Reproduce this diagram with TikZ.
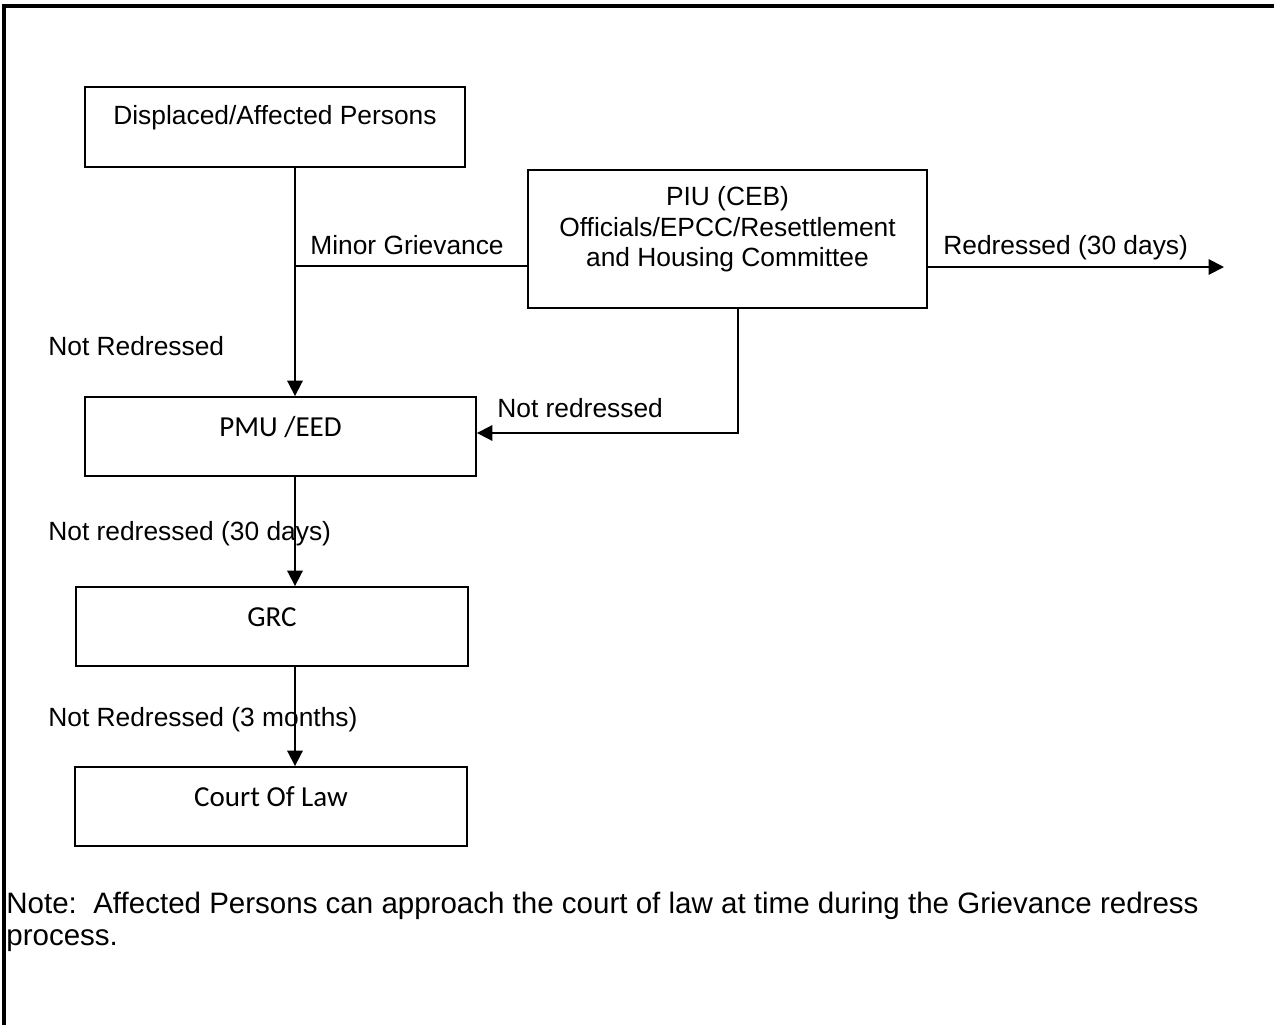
\documentclass[tikz,border=0pt]{standalone}
\usepackage{fontspec}
\setmainfont{Liberation Sans}
\newfontfamily\calibri{Carlito}
\usepackage{tikz}
\usetikzlibrary{arrows.meta, positioning, calc}

\tikzset{
    box/.style={draw, line width=1.1pt, inner sep=0pt},
    lbl/.style={anchor=base west, inner sep=0pt},
    arr/.style={line width=1.1pt, -{Triangle[length=3.1mm, width=3.1mm]}},
}

\begin{document}
\begin{tikzpicture}[x=0.02cm, y=-0.02cm, font=\fontsize{15}{17.6}\selectfont]
    \useasboundingbox (0,0) rectangle (1274,1025);
    \draw[line width=2pt] (4,1025) -- (4,6) -- (1274,6);

    \node[box, minimum width=7.6cm, minimum height=1.6cm, text height=0.39cm, text depth=0.49cm] (dap) at (275,127) {Displaced/Affected Persons};
    \node[box, minimum width=7.98cm, minimum height=2.76cm, align=center, text depth=0.5cm] (piu) at (727.5,239) {PIU (CEB)\\Officials/EPCC/Resettlement\\and Housing Committee};
    \node[box, minimum width=7.82cm, minimum height=1.58cm, text height=0.4cm, text depth=0.42cm, font=\calibri\fontsize{16.5}{19}\selectfont] (pmu) at (280.5,436.5) {PMU /EED};
    \node[box, minimum width=7.84cm, minimum height=1.58cm, text height=0.4cm, text depth=0.42cm, font=\calibri\fontsize{16.5}{19}\selectfont] (grc) at (272,626.5) {GRC};
    \node[box, minimum width=7.84cm, minimum height=1.58cm, text height=0.4cm, text depth=0.42cm, font=\calibri\fontsize{16.5}{19}\selectfont] (court) at (271,806.5) {Court Of Law};

    \coordinate (trunk) at (295,266);
    \coordinate (bend) at (738,433);
    \coordinate (out) at (1224,267);

    \draw[arr] (dap.south -| trunk) -- (pmu.north -| trunk);
    \draw[line width=1.1pt] (trunk -| piu.west) -- (trunk);
    \draw[arr] (piu.south -| bend) -- (bend) -- (bend -| pmu.east);
    \draw[arr] (out -| piu.east) -- (out);
    \draw[arr] (pmu.south -| trunk) -- (grc.north -| trunk);
    \draw[arr] (grc.south -| trunk) -- (court.north -| trunk);

    \node[lbl] (minor) at (310,254) {Minor Grievance};
    \node[lbl] (redr) at (943,254) {Redressed (30 days)};
    \node[lbl] (nr1) at (48,355) {Not Redressed};
    \node[lbl] (nr2) at (497,417) {Not redressed};
    \node[lbl] (nr3) at (48,540) {Not redressed (30 days)};
    \node[lbl] (nr4) at (48,726) {Not Redressed (3 months)};

    \node[lbl, align=left, font=\fontsize{16.8}{18.2}\selectfont] (note) at (6,945) {Note:\ \ Affected Persons can approach the court of law at time during the Grievance redress\\process.};
\end{tikzpicture}
\end{document}
